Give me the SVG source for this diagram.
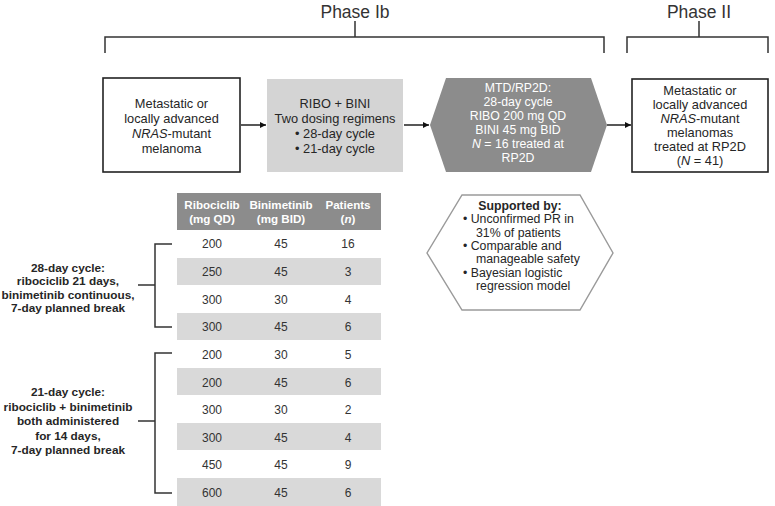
<svg xmlns="http://www.w3.org/2000/svg" width="775" height="506" viewBox="0 0 775 506">
<style>
text{font-family:"Liberation Sans",Arial,Helvetica,sans-serif;fill:#262626}
.ph{font-size:17.5px;text-anchor:middle;fill:#333}
.bx{font-size:12.8px;text-anchor:middle}
.hx{font-size:12.3px;text-anchor:middle;fill:#fff}
.th{font-size:11.6px;font-weight:bold;text-anchor:middle;fill:#fff}
.td{font-size:12px;text-anchor:middle;fill:#333}
.lb{font-size:11.8px;font-weight:bold;text-anchor:middle;fill:#262626}
.sp{font-size:12.3px;fill:#262626}
.br{fill:none;stroke:#333;stroke-width:1.5}
.ar{fill:none;stroke:#111;stroke-width:1.4;marker-end:url(#ah)}
.g{fill:#d9d9d9}
</style>
<defs>
<marker id="ah" viewBox="0 0 10 10" refX="10" refY="5" markerWidth="6" markerHeight="6" markerUnits="userSpaceOnUse" orient="auto"><path d="M0,0 L10,5 L0,10 z" fill="#111"/></marker>
</defs>

<g id="phase-ib">
<text class="ph" x="355" y="18">Phase Ib</text>
<path class="br" d="M355,21 V37 M105,53 V37 H604 V53"/>
</g>
<g id="phase-ii">
<text class="ph" x="699" y="18">Phase II</text>
<path class="br" d="M699,21 V37 M627,53 V37 H768 V53"/>
</g>

<g id="node-population">
<rect x="103" y="78" width="137" height="94" fill="#fff" stroke="#222" stroke-width="1.6"/>
<text class="bx" x="171.5" y="107.5">Metastatic or</text>
<text class="bx" x="171.5" y="122.5">locally advanced</text>
<text class="bx" x="171.5" y="137.5"><tspan font-style="italic">NRAS</tspan>-mutant</text>
<text class="bx" x="171.5" y="152.5">melanoma</text>
</g>

<g id="node-ribo-bini">
<rect x="267" y="79" width="136" height="93" fill="#d4d4d4"/>
<text class="bx" x="335" y="107.5">RIBO + BINI</text>
<text class="bx" x="335" y="122.5">Two dosing regimens</text>
<text class="bx" x="335" y="137.5">• 28-day cycle</text>
<text class="bx" x="335" y="152.5">• 21-day cycle</text>
</g>

<g id="node-mtd">
<polygon points="446,78 591,78 607,125 591,172 446,172 430,125" fill="#8c8c8c"/>
<text class="hx" x="518" y="91.5">MTD/RP2D:</text>
<text class="hx" x="518" y="105.5">28-day cycle</text>
<text class="hx" x="518" y="119.5">RIBO 200 mg QD</text>
<text class="hx" x="518" y="133.5">BINI 45 mg BID</text>
<text class="hx" x="518" y="147.5"><tspan font-style="italic">N</tspan> = 16 treated at</text>
<text class="hx" x="518" y="161.5">RP2D</text>
</g>

<g id="node-phase2">
<rect x="632" y="79" width="136" height="93" fill="#fff" stroke="#222" stroke-width="1.6"/>
<text class="bx" x="700" y="94.5">Metastatic or</text>
<text class="bx" x="700" y="108.5">locally advanced</text>
<text class="bx" x="700" y="122.5"><tspan font-style="italic">NRAS</tspan>-mutant</text>
<text class="bx" x="700" y="136.5">melanomas</text>
<text class="bx" x="700" y="150.5">treated at RP2D</text>
<text class="bx" x="700" y="164.5">(<tspan font-style="italic">N</tspan> = 41)</text>
</g>

<g id="connectors">
<line class="ar" x1="241" y1="125" x2="266" y2="125"/>
<line class="ar" x1="404" y1="125" x2="429" y2="125"/>
<line class="ar" x1="607" y1="125" x2="631" y2="125"/>
<path class="br" d="M172,244 H155 V327 H172 M138,285 H155"/>
<path class="br" d="M172,353 H155 V493 H172 M138,421 H155"/>
</g>

<g id="node-supported">
<polygon points="462,195 580,195 613,253 580,310 462,310 427,253" fill="#fff" stroke="#9a9a9a" stroke-width="1.4"/>
<text class="sp" x="520" y="210" text-anchor="middle" font-weight="bold">Supported by:</text>
<text class="sp" x="463" y="223">• Unconfirmed PR in</text>
<text class="sp" x="476" y="236.5">31% of patients</text>
<text class="sp" x="463" y="250">• Comparable and</text>
<text class="sp" x="476" y="263">manageable safety</text>
<text class="sp" x="463" y="276.5">• Bayesian logistic</text>
<text class="sp" x="476" y="289.5">regression model</text>
</g>

<g id="label-28day">
<text class="lb" x="68" y="271.5">28-day cycle:</text>
<text class="lb" x="68" y="285">ribociclib 21 days,</text>
<text class="lb" x="68" y="298.5">binimetinib continuous,</text>
<text class="lb" x="68" y="312">7-day planned break</text>
</g>

<g id="label-21day">
<text class="lb" x="68" y="396">21-day cycle:</text>
<text class="lb" x="68" y="410.5">ribociclib + binimetinib</text>
<text class="lb" x="68" y="425">both administered</text>
<text class="lb" x="68" y="439.5">for 14 days,</text>
<text class="lb" x="68" y="453.5">7-day planned break</text>
</g>

<g id="table">
<rect x="177" y="193" width="204" height="37" fill="#8c8c8c"/>
<text class="th" x="212" y="209">Ribociclib</text>
<text class="th" x="212" y="222.5">(mg QD)</text>
<text class="th" x="281" y="209">Binimetinib</text>
<text class="th" x="281" y="222.5">(mg BID)</text>
<text class="th" x="348" y="209">Patients</text>
<text class="th" x="348" y="222.5">(<tspan font-style="italic">n</tspan>)</text>
<rect class="g" x="177" y="258" width="204" height="27"/>
<rect class="g" x="177" y="313" width="204" height="27"/>
<rect class="g" x="177" y="368" width="204" height="27"/>
<rect class="g" x="177" y="423" width="204" height="27"/>
<rect class="g" x="177" y="478" width="204" height="28"/>
<g>
<text class="td" x="212" y="248.3">200</text><text class="td" x="281" y="248.3">45</text><text class="td" x="348" y="248.3">16</text>
<text class="td" x="212" y="276">250</text><text class="td" x="281" y="276">45</text><text class="td" x="348" y="276">3</text>
<text class="td" x="212" y="303.5">300</text><text class="td" x="281" y="303.5">30</text><text class="td" x="348" y="303.5">4</text>
<text class="td" x="212" y="331">300</text><text class="td" x="281" y="331">45</text><text class="td" x="348" y="331">6</text>
<text class="td" x="212" y="358.5">200</text><text class="td" x="281" y="358.5">30</text><text class="td" x="348" y="358.5">5</text>
<text class="td" x="212" y="386.5">200</text><text class="td" x="281" y="386.5">45</text><text class="td" x="348" y="386.5">6</text>
<text class="td" x="212" y="414">300</text><text class="td" x="281" y="414">30</text><text class="td" x="348" y="414">2</text>
<text class="td" x="212" y="441.5">300</text><text class="td" x="281" y="441.5">45</text><text class="td" x="348" y="441.5">4</text>
<text class="td" x="212" y="469">450</text><text class="td" x="281" y="469">45</text><text class="td" x="348" y="469">9</text>
<text class="td" x="212" y="496.5">600</text><text class="td" x="281" y="496.5">45</text><text class="td" x="348" y="496.5">6</text>
</g>
</g>
</svg>
